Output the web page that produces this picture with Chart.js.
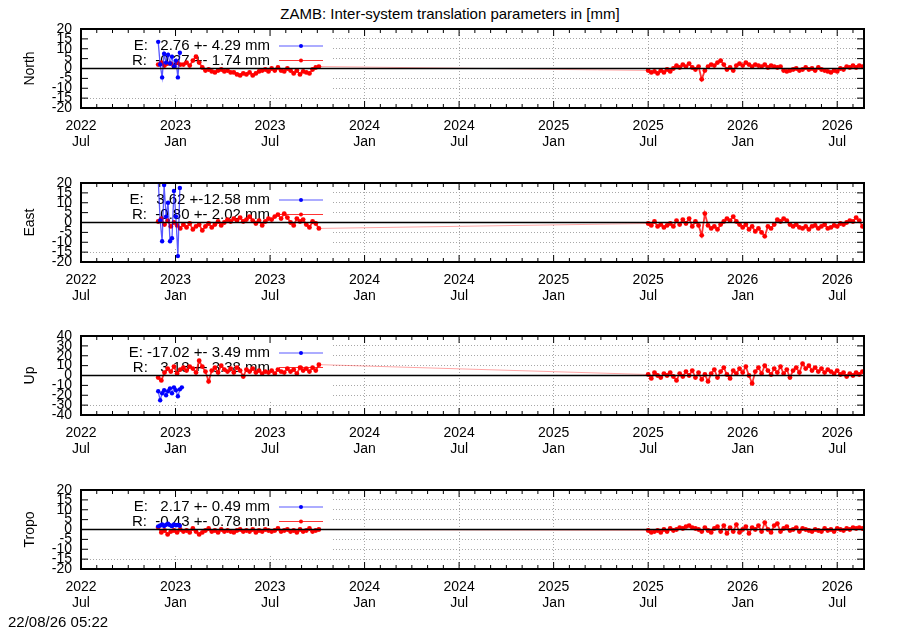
<!DOCTYPE html>
<html>
<head>
<meta charset="utf-8">
<script src="https://cdn.jsdelivr.net/npm/chart.js@4.4.1/dist/chart.umd.min.js"></script>
<style>
    body { margin: 0; background: #fff; font-family: "Liberation Sans", Arial, sans-serif; }
    #wrap { position: relative; width: 900px; height: 630px; overflow: hidden; }
    #titulo { position: absolute; top: 5px; left: 0; width: 900px; text-align: center; font-size: 15px; line-height: 17px; color: #000; }
    #carimbo { position: absolute; left: 8px; top: 613px; font-size: 15px; line-height: 17px; color: #000; }
    canvas { position: absolute; left: 0; }
</style>
</head>
<body>
<div id="wrap">
    <div id="titulo">ZAMB: Inter-system translation parameters in [mm]</div>
    <canvas id="painel0" width="900" height="154" style="top:0px"></canvas>
    <canvas id="painel1" width="900" height="154" style="top:154px"></canvas>
    <canvas id="painel2" width="900" height="154" style="top:307px"></canvas>
    <canvas id="painel3" width="900" height="154" style="top:461px"></canvas>
    <div id="carimbo">22/08/26 05:22</div>
</div>
<script>
// Eixo x em meses contados a partir de 2022 Jul
const X_MAX = 49.7;
const xTickYears = ['2022', '2023', '2023', '2024', '2024', '2025', '2025', '2026', '2026'];
const xTickMonths = ['Jul', 'Jan', 'Jul', 'Jan', 'Jul', 'Jan', 'Jul', 'Jan', 'Jul'];

// amostragem das séries (inicio, passo em meses)
const E_START = 4.9, E_STEP = 0.125;
const R_START1 = 4.9, R_START2 = 36.0, R_STEP = 0.2;

// --- North ---
const northE = [13.5, 2, -4.5, 7.5, 3, 7, 2.5, 6, 1, 4, -4.5, 8];
const northR1 = [2, 3, 1.5, 2.5, 2.5, 1, 3, 2, 2, 3, 1.5, 4, 6, 3, 0.5, -1, -0.5, -1.5, -2, -1,
    -0.5, -1.5, -1, -2, -2, -3, -3.5, -2.5, -3, -2, -3.5, -2.5, -1.5, -1, -0.5, -1.5, 0, -1, 0.5, -1,
    -1.5, 0, -1, -2.5, -1, -3, -1.5, -2, -2.5, -0.5, 0.5, 1];
const northR2 = [-1, -2, -1.5, -2.5, -1, -2, -0.5, -1.5, 0, 1.5, 0.5, 2, 1, 2.5, 0.5, -0.5, 1, -5.5, -1, 1,
    2, 1.5, 3, 4, 2, -0.5, 0.5, -1, 1.5, 2.5, 1.5, 3, 2, 1, 2, 1.5, 1, 2, 0.5, 1.5,
    1, 0.5, 1, -1, -1.5, -1, -0.5, 0, -1, -0.5, 0.5, -0.5, 0, -1, 0.5, -0.5, -1, -1.5, -2, -1,
    -1.5, 0, -0.5, 1, 0.5, 1.5, 0.5, 1.5, 1];
const northStats = [2.76, 4.29, -0.27, 1.74];

// --- East ---
const eastE = [22, 1, -9.5, 19, 3, 10, -9.5, -8, 16, 3, -17, 17.5];
const eastR1 = [0.5, 2, -1, 1, -2, 0, -1.5, -3, -1, -2.5, -0.5, -3.5, -2, -1, -4, -2, -0.5, -2.5, -1, 0.5,
    -1.5, 0, 1.5, 0.5, 2, 1, 2.5, 0.5, 1.5, 3, 1, -0.5, 1, -1.5, 0.5, 2, 1.5, 3, 4, 2,
    4.5, 2.5, 0, -1.5, 2, 0.5, 1.5, -1, -2.5, 0.5, -0.5, -3];
const eastR2 = [-0.5, -1.5, 0.5, -2, -1, -2.5, -1.5, -0.5, -2, 1, -1, 1.5, -0.5, 2, -2, 0.5, -1.5, -6.5, 4.5, -1.5,
    -3, -2, -3.5, -1, 0.5, 2, 1, 3, 0.5, -1, -2.5, -1, -3.5, -2, -4.5, -3, -5, -7, -2, -3,
    -1, 1.5, 0.5, 2, 1, -1, -2, -1, -2.5, -3, -2, -3.5, -2, -1.5, -3, -2, -1, -3, -2.5, -1.5,
    -2, -0.5, -1, 0, 1, 0.5, 2.5, 1, -2];
const eastStats = [3.62, 12.58, -0.80, 2.02];

// --- Up ---
const upE = [-16, -25, -18, -15, -20, -16, -13, -18, -12, -15, -21, -14, -12];
const upR1 = [-2, -5, 3, 7, 4, 9, 2, 6, 8, 5, 9, 7, 3, 15, 9, 4, -6, 5, 8, 3,
    10, 6, 4, 7, 3, 8, 5, -1, 6, 4, 7, 3, 5, 2, 4, 3, 5, 2, 6, 4,
    3, 7, 4, 6, 2, 8, 5, 7, 4, 8, 5, 11];
const upR2 = [1, -3, 3, 0, -2, 2, 0, 3, -1, -5, 2, -1, 4, 0, 5, -2, 3, -4, 1, -6,
    2, 6, -2, 4, 8, 1, -3, 5, 2, 7, 3, 9, 0, -8, 4, 8, 2, 10, 5, 1,
    7, 3, 9, 2, 6, -2, 5, 8, 3, 12, 7, 10, 5, 8, 4, 7, 3, 6, 4, 2,
    5, 1, 3, -1, 2, 0, 3, 1, 4];
const upStats = [-17.02, 3.49, 3.18, 3.38];

// --- Tropo ---
const tropoE = [1.6, 2.0, 2.5, 1.8, 2.4, 2.9, 2.2, 1.7, 2.6, 2.1, 2.3, 1.9];
const tropoR1 = [1, -1.5, -0.5, -2.5, -1, -0.5, -1.5, 0, -1, -0.5, -1.5, 0.5, -1, -2.5, -1.5, -0.5, 0.5, -1, -0.5, -1.5,
    0, -1, -0.5, -1, -1.5, -0.5, 0, -1, -0.5, -1, 0, -1.5, -0.5, -1, 0, -0.5, -1, -0.5, 0.5, -1,
    -0.5, 0, -1, -0.5, -1.5, 0, -1, -0.5, 0.5, -1, -0.5, 0];
const tropoR2 = [-0.5, -1.5, -1, -0.5, -1.5, 0, -1, 0.5, -0.5, 0, 1, 0.5, 1.5, 2, 1, 0.5, 0, -1, 1, -0.5,
    -1.5, 0.5, 1.5, -1, 2, -2, 1, -1, 2.5, -1.5, 0, 1.5, -2, 1, 0, 2, -1, 3.5, 0, -1.5,
    2, 3, -1, 0.5, 1.5, -0.5, 0, 1, -1, 0.5, 0, -0.5, -1, 0, -0.5, -1, 0.5, -0.5, 0, -1,
    0.5, 0, -0.5, 0.5, 0, 1, 0.5, 1, 0.5];
const tropoStats = [2.17, 0.49, -0.43, 0.78];

const panelNames = ['North', 'East', 'Up', 'Tropo'];
const panelRanges = [20, 20, 40, 20];
const panelSteps = [5, 5, 10, 5];

const cores = {
    eLine: 'rgba(0, 0, 255, 0.65)',
    ePoint: '#0000ff',
    rLine: 'rgba(255, 0, 0, 0.8)',
    rGap: 'rgba(255, 0, 0, 0.35)',
    rPoint: '#ff0000',
    grid: '#a8a8a8',
    text: '#000'
};
const FONTE = '"Liberation Sans", Arial, sans-serif';

function toPoints(start, step, vals) {
    return vals.map((v, i) => ({ x: +(start + step * i).toFixed(3), y: v }));
}

function fmt(v, w) {
    return v.toFixed(2).padStart(w, ' ');
}

// trecho longo sem dados: linha fina e clara
const isGap = seg => seg.p1.parsed.x - seg.p0.parsed.x > 1;

// Caixa da legenda (opaca), linha do zero, moldura e ticks para dentro, no estilo gnuplot
const gnuplotStyle = {
    id: 'gnuplotStyle',
    beforeDatasetsDraw(chart, args, opts) {
        const { ctx, chartArea: a } = chart;
        ctx.save();
        ctx.fillStyle = '#fff';
        ctx.fillRect(a.left + 1, a.top + 1, 250, (a.bottom - a.top) * 0.81);
        ctx.font = '15px ' + FONTE;
        ctx.textAlign = 'right';
        ctx.textBaseline = 'middle';
        opts.rows.forEach((row, i) => {
            const y = a.top + 17 + i * 14.5;
            ctx.fillStyle = cores.text;
            ctx.fillText(row.text, a.left + 189, y);
            ctx.strokeStyle = row.line;
            ctx.lineWidth = 1.2;
            ctx.beginPath();
            ctx.moveTo(a.left + 198, y);
            ctx.lineTo(a.left + 242, y);
            ctx.stroke();
            ctx.fillStyle = row.point;
            ctx.beginPath();
            ctx.arc(a.left + 220, y, 2, 0, Math.PI * 2);
            ctx.fill();
        });
        ctx.restore();
    },
    afterDatasetsDraw(chart) {
        const { ctx, chartArea: a, scales } = chart;
        const y0 = scales.y.getPixelForValue(0);
        ctx.save();
        ctx.strokeStyle = '#000';
        ctx.lineWidth = 1.5;
        ctx.beginPath();
        ctx.moveTo(a.left, y0);
        ctx.lineTo(a.right, y0);
        ctx.stroke();
        ctx.restore();
    },
    afterDraw(chart) {
        const { ctx, chartArea: a, scales } = chart;
        ctx.save();
        ctx.strokeStyle = '#000';
        ctx.lineWidth = 1;
        ctx.beginPath();
        scales.x.ticks.forEach(t => {
            const x = scales.x.getPixelForValue(t.value);
            const len = t.value % 6 === 0 ? 7 : 4;
            ctx.moveTo(x, a.top); ctx.lineTo(x, a.top + len);
            ctx.moveTo(x, a.bottom); ctx.lineTo(x, a.bottom - len);
        });
        scales.y.ticks.forEach(t => {
            const y = scales.y.getPixelForValue(t.value);
            ctx.moveTo(a.left, y); ctx.lineTo(a.left + 7, y);
            ctx.moveTo(a.right, y); ctx.lineTo(a.right - 7, y);
        });
        ctx.stroke();
        ctx.lineWidth = 2;
        ctx.strokeRect(a.left, a.top, a.right - a.left, a.bottom - a.top);
        ctx.restore();
    }
};

function renderPanel(idx, eVals, r1Vals, r2Vals, stats) {
    const range = panelRanges[idx];
    const ctx = document.getElementById('painel' + idx).getContext('2d');
    const monthTicks = [];
    for (let m = 0; m <= Math.floor(X_MAX); m++) monthTicks.push({ value: m });

    new Chart(ctx, {
        type: 'line',
        data: {
            datasets: [
                {
                    label: 'E',
                    data: toPoints(E_START, E_STEP, eVals),
                    borderColor: cores.eLine,
                    borderWidth: 1.3,
                    pointRadius: 2.2,
                    pointBorderWidth: 0,
                    pointBackgroundColor: cores.ePoint,
                    tension: 0
                },
                {
                    label: 'R',
                    data: toPoints(R_START1, R_STEP, r1Vals).concat(toPoints(R_START2, R_STEP, r2Vals)),
                    borderColor: cores.rLine,
                    borderWidth: 1.8,
                    pointRadius: 2.4,
                    pointBorderWidth: 0,
                    pointBackgroundColor: cores.rPoint,
                    tension: 0,
                    segment: {
                        borderColor: seg => isGap(seg) ? cores.rGap : undefined,
                        borderWidth: seg => isGap(seg) ? 1 : undefined
                    }
                }
            ]
        },
        options: {
            responsive: false,
            animation: false,
            events: [],
            layout: { padding: { top: 29, right: 36, left: 0, bottom: 0 } },
            plugins: {
                legend: { display: false },
                tooltip: { enabled: false },
                gnuplotStyle: {
                    rows: [
                        { text: 'E: ' + fmt(stats[0], 6) + ' +-' + fmt(stats[1], 5) + ' mm', line: cores.eLine, point: cores.ePoint },
                        { text: 'R: ' + fmt(stats[2], 6) + ' +-' + fmt(stats[3], 5) + ' mm', line: cores.rLine, point: cores.rPoint }
                    ]
                }
            },
            scales: {
                x: {
                    type: 'linear',
                    min: 0,
                    max: X_MAX,
                    afterBuildTicks: scale => { scale.ticks = monthTicks.slice(); },
                    afterFit: scale => { scale.height = 46; },
                    ticks: {
                        autoSkip: false,
                        maxRotation: 0,
                        padding: 10,
                        color: cores.text,
                        font: { family: FONTE, size: 14, lineHeight: 1.15 },
                        callback: v => v % 6 === 0 ? [xTickYears[v / 6], xTickMonths[v / 6]] : ''
                    },
                    grid: {
                        drawTicks: false,
                        lineWidth: 1,
                        color: c => (c.tick && c.tick.value % 6 === 0 && c.tick.value > 0) ? cores.grid : 'rgba(0,0,0,0)'
                    },
                    border: { display: false, dash: [1, 2] }
                },
                y: {
                    min: -range,
                    max: range,
                    afterFit: scale => { scale.width = 81; },
                    title: {
                        display: true,
                        text: panelNames[idx],
                        color: cores.text,
                        font: { family: FONTE, size: 14 },
                        padding: { top: 22, bottom: 0 }
                    },
                    ticks: {
                        stepSize: panelSteps[idx],
                        autoSkip: false,
                        padding: 9,
                        color: cores.text,
                        font: { family: FONTE, size: 14 }
                    },
                    grid: {
                        drawTicks: false,
                        lineWidth: 1,
                        color: c => (c.tick && Math.abs(c.tick.value) < range && c.tick.value !== 0) ? cores.grid : 'rgba(0,0,0,0)'
                    },
                    border: { display: false, dash: [1, 2] }
                }
            }
        },
        plugins: [gnuplotStyle]
    });
}

document.addEventListener('DOMContentLoaded', () => {
    renderPanel(0, northE, northR1, northR2, northStats);
    renderPanel(1, eastE, eastR1, eastR2, eastStats);
    renderPanel(2, upE, upR1, upR2, upStats);
    renderPanel(3, tropoE, tropoR1, tropoR2, tropoStats);
});
</script>
</body>
</html>
